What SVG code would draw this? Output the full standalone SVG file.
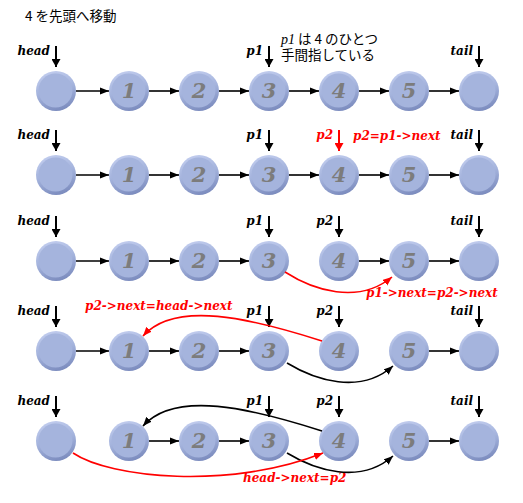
<svg xmlns="http://www.w3.org/2000/svg" width="523" height="503" viewBox="0 0 523 503">
<style>
.bg{fill:#ffffff}
.rim{fill:url(#rim)}
.in{fill:#a5b4dd}
.num{font-family:"DejaVu Serif","Liberation Serif",serif;font-weight:bold;font-style:italic;font-size:21px;fill:#7c7c7c;text-anchor:middle}
.lbl{font-family:"DejaVu Serif","Liberation Serif",serif;font-weight:bold;font-style:italic;font-size:12px;fill:#000;text-anchor:end}
.red{fill:#ff0000}
.rlbl{font-family:"DejaVu Serif","Liberation Serif",serif;font-weight:bold;font-style:italic;font-size:12px;fill:#ff0000}
.jp{font-family:"Noto Sans CJK JP","Noto Sans",sans-serif;font-size:13.5px;fill:#000}
.ln{fill:none;stroke:#000;stroke-width:1.6}
.lr{fill:none;stroke:#ff0000;stroke-width:1.6}
.ptr{fill:none;stroke:#000;stroke-width:2;marker-end:url(#ap)}
.ptrr{fill:none;stroke:#ff0000;stroke-width:2;marker-end:url(#apr)}
.ar{marker-end:url(#ah)}
.arr{marker-end:url(#ahr)}
</style>
<defs>
<linearGradient id="rim" x1="0.2" y1="0" x2="0.5" y2="1">
<stop offset="0" stop-color="#c3ceef"/>
<stop offset="0.5" stop-color="#a5b4dd"/>
<stop offset="1" stop-color="#7d8dbf"/>
</linearGradient>
<marker id="ah" viewBox="0 0 10 8" refX="10" refY="4" markerWidth="9" markerHeight="7.5" markerUnits="userSpaceOnUse" orient="auto"><path d="M0,0L10,4L0,8z" fill="#000"/></marker>
<marker id="ahr" viewBox="0 0 10 8" refX="10" refY="4" markerWidth="9" markerHeight="7.5" markerUnits="userSpaceOnUse" orient="auto"><path d="M0,0L10,4L0,8z" fill="#ff0000"/></marker>
<marker id="ap" viewBox="0 0 8 9" refX="8" refY="4.5" markerWidth="8" markerHeight="9" markerUnits="userSpaceOnUse" orient="auto"><path d="M0,0L8,4.5L0,9z" fill="#000"/></marker>
<marker id="apr" viewBox="0 0 8 9" refX="8" refY="4.5" markerWidth="8" markerHeight="9" markerUnits="userSpaceOnUse" orient="auto"><path d="M0,0L8,4.5L0,9z" fill="#ff0000"/></marker>
</defs>
<rect class="bg" x="0" y="0" width="523" height="503"/>

<g id="title"><text class="jp" x="25" y="21">4 を先頭へ移動</text></g>
<g id="note">
<text class="jp" x="281" y="44"><tspan font-family="Liberation Serif, serif" font-style="italic" font-size="14">p1</tspan> は 4 のひとつ<tspan x="281" y="60">手間指している</tspan></text>
</g>

<!-- Row 1 -->
<g id="r1-head"><circle class="rim" cx="56" cy="91" r="20"/><circle class="in" cx="55.5" cy="90.5" r="17"/></g>
<g id="r1-n1"><circle class="rim" cx="129" cy="91" r="20"/><circle class="in" cx="128.5" cy="90.5" r="17"/><text class="num" x="129" y="98">1</text></g>
<g id="r1-n2"><circle class="rim" cx="199" cy="91" r="20"/><circle class="in" cx="198.5" cy="90.5" r="17"/><text class="num" x="199" y="98">2</text></g>
<g id="r1-n3"><circle class="rim" cx="269" cy="91" r="20"/><circle class="in" cx="268.5" cy="90.5" r="17"/><text class="num" x="269" y="98">3</text></g>
<g id="r1-n4"><circle class="rim" cx="339" cy="91" r="20"/><circle class="in" cx="338.5" cy="90.5" r="17"/><text class="num" x="339" y="98">4</text></g>
<g id="r1-n5"><circle class="rim" cx="409" cy="91" r="20"/><circle class="in" cx="408.5" cy="90.5" r="17"/><text class="num" x="409" y="98">5</text></g>
<g id="r1-tail"><circle class="rim" cx="479" cy="91" r="20"/><circle class="in" cx="478.5" cy="90.5" r="17"/></g>
<g id="r1-labels">
<text class="lbl" x="50" y="55">head</text>
<text class="lbl" x="263" y="55">p1</text>
<text class="lbl" x="473" y="55">tail</text>
</g>

<!-- Row 2 -->
<g id="r2-head"><circle class="rim" cx="56" cy="175" r="20"/><circle class="in" cx="55.5" cy="174.5" r="17"/></g>
<g id="r2-n1"><circle class="rim" cx="129" cy="175" r="20"/><circle class="in" cx="128.5" cy="174.5" r="17"/><text class="num" x="129" y="182">1</text></g>
<g id="r2-n2"><circle class="rim" cx="199" cy="175" r="20"/><circle class="in" cx="198.5" cy="174.5" r="17"/><text class="num" x="199" y="182">2</text></g>
<g id="r2-n3"><circle class="rim" cx="269" cy="175" r="20"/><circle class="in" cx="268.5" cy="174.5" r="17"/><text class="num" x="269" y="182">3</text></g>
<g id="r2-n4"><circle class="rim" cx="339" cy="175" r="20"/><circle class="in" cx="338.5" cy="174.5" r="17"/><text class="num" x="339" y="182">4</text></g>
<g id="r2-n5"><circle class="rim" cx="409" cy="175" r="20"/><circle class="in" cx="408.5" cy="174.5" r="17"/><text class="num" x="409" y="182">5</text></g>
<g id="r2-tail"><circle class="rim" cx="479" cy="175" r="20"/><circle class="in" cx="478.5" cy="174.5" r="17"/></g>
<g id="r2-labels">
<text class="lbl" x="50" y="139">head</text>
<text class="lbl" x="263" y="139">p1</text>
<text class="lbl red" x="333" y="139">p2</text>
<text class="rlbl" x="353" y="140">p2=p1-&gt;next</text>
<text class="lbl" x="473" y="139">tail</text>
</g>

<!-- Row 3 -->
<g id="r3-head"><circle class="rim" cx="56" cy="261" r="20"/><circle class="in" cx="55.5" cy="260.5" r="17"/></g>
<g id="r3-n1"><circle class="rim" cx="129" cy="261" r="20"/><circle class="in" cx="128.5" cy="260.5" r="17"/><text class="num" x="129" y="268">1</text></g>
<g id="r3-n2"><circle class="rim" cx="199" cy="261" r="20"/><circle class="in" cx="198.5" cy="260.5" r="17"/><text class="num" x="199" y="268">2</text></g>
<g id="r3-n3"><circle class="rim" cx="269" cy="261" r="20"/><circle class="in" cx="268.5" cy="260.5" r="17"/><text class="num" x="269" y="268">3</text></g>
<g id="r3-n4"><circle class="rim" cx="339" cy="261" r="20"/><circle class="in" cx="338.5" cy="260.5" r="17"/><text class="num" x="339" y="268">4</text></g>
<g id="r3-n5"><circle class="rim" cx="409" cy="261" r="20"/><circle class="in" cx="408.5" cy="260.5" r="17"/><text class="num" x="409" y="268">5</text></g>
<g id="r3-tail"><circle class="rim" cx="479" cy="261" r="20"/><circle class="in" cx="478.5" cy="260.5" r="17"/></g>
<g id="r3-labels">
<text class="lbl" x="50" y="225">head</text>
<text class="lbl" x="263" y="225">p1</text>
<text class="lbl" x="333" y="225">p2</text>
<text class="lbl" x="473" y="225">tail</text>
<text class="rlbl" x="366" y="297">p1-&gt;next=p2-&gt;next</text>
</g>

<!-- Row 4 -->
<g id="r4-head"><circle class="rim" cx="56" cy="351" r="20"/><circle class="in" cx="55.5" cy="350.5" r="17"/></g>
<g id="r4-n1"><circle class="rim" cx="129" cy="351" r="20"/><circle class="in" cx="128.5" cy="350.5" r="17"/><text class="num" x="129" y="358">1</text></g>
<g id="r4-n2"><circle class="rim" cx="199" cy="351" r="20"/><circle class="in" cx="198.5" cy="350.5" r="17"/><text class="num" x="199" y="358">2</text></g>
<g id="r4-n3"><circle class="rim" cx="269" cy="351" r="20"/><circle class="in" cx="268.5" cy="350.5" r="17"/><text class="num" x="269" y="358">3</text></g>
<g id="r4-n4"><circle class="rim" cx="339" cy="351" r="20"/><circle class="in" cx="338.5" cy="350.5" r="17"/><text class="num" x="339" y="358">4</text></g>
<g id="r4-n5"><circle class="rim" cx="409" cy="351" r="20"/><circle class="in" cx="408.5" cy="350.5" r="17"/><text class="num" x="409" y="358">5</text></g>
<g id="r4-tail"><circle class="rim" cx="479" cy="351" r="20"/><circle class="in" cx="478.5" cy="350.5" r="17"/></g>
<g id="r4-labels">
<text class="lbl" x="50" y="315">head</text>
<text class="lbl" x="263" y="315">p1</text>
<text class="lbl" x="333" y="315">p2</text>
<text class="lbl" x="473" y="315">tail</text>
<text class="rlbl" x="85" y="310">p2-&gt;next=head-&gt;next</text>
</g>

<!-- Row 5 -->
<g id="r5-head"><circle class="rim" cx="56" cy="441" r="20"/><circle class="in" cx="55.5" cy="440.5" r="17"/></g>
<g id="r5-n1"><circle class="rim" cx="129" cy="441" r="20"/><circle class="in" cx="128.5" cy="440.5" r="17"/><text class="num" x="129" y="448">1</text></g>
<g id="r5-n2"><circle class="rim" cx="199" cy="441" r="20"/><circle class="in" cx="198.5" cy="440.5" r="17"/><text class="num" x="199" y="448">2</text></g>
<g id="r5-n3"><circle class="rim" cx="269" cy="441" r="20"/><circle class="in" cx="268.5" cy="440.5" r="17"/><text class="num" x="269" y="448">3</text></g>
<g id="r5-n4"><circle class="rim" cx="339" cy="441" r="20"/><circle class="in" cx="338.5" cy="440.5" r="17"/><text class="num" x="339" y="448">4</text></g>
<g id="r5-n5"><circle class="rim" cx="409" cy="441" r="20"/><circle class="in" cx="408.5" cy="440.5" r="17"/><text class="num" x="409" y="448">5</text></g>
<g id="r5-tail"><circle class="rim" cx="479" cy="441" r="20"/><circle class="in" cx="478.5" cy="440.5" r="17"/></g>
<g id="r5-labels">
<text class="lbl" x="50" y="405">head</text>
<text class="lbl" x="263" y="405">p1</text>
<text class="lbl" x="333" y="405">p2</text>
<text class="lbl" x="473" y="405">tail</text>
<text class="rlbl" x="243" y="482">head-&gt;next=p2</text>
</g>

<g id="connectors">
<!-- row 1 -->
<path class="ln ar" d="M76,91H109"/><path class="ln ar" d="M149,91H179"/><path class="ln ar" d="M219,91H249"/>
<path class="ln ar" d="M289,91H319"/><path class="ln ar" d="M359,91H389"/><path class="ln ar" d="M429,91H459"/>
<path class="ptr" d="M56,46V67"/><path class="ptr" d="M269,46V67"/><path class="ptr" d="M479,46V67"/>
<!-- row 2 -->
<path class="ln ar" d="M76,175H109"/><path class="ln ar" d="M149,175H179"/><path class="ln ar" d="M219,175H249"/>
<path class="ln ar" d="M289,175H319"/><path class="ln ar" d="M359,175H389"/><path class="ln ar" d="M429,175H459"/>
<path class="ptr" d="M56,130V151"/><path class="ptr" d="M269,130V151"/><path class="ptrr" d="M339,130V151"/><path class="ptr" d="M479,130V151"/>
<!-- row 3 -->
<path class="ln ar" d="M76,261H109"/><path class="ln ar" d="M149,261H179"/><path class="ln ar" d="M219,261H249"/>
<path class="ln ar" d="M359,261H389"/><path class="ln ar" d="M429,261H459"/>
<path class="ptr" d="M56,216V237"/><path class="ptr" d="M269,216V237"/><path class="ptr" d="M339,216V237"/><path class="ptr" d="M479,216V237"/>
<path class="lr arr" d="M285,272C313,290 358,305 392,277"/>
<!-- row 4 -->
<path class="ln ar" d="M76,351H109"/><path class="ln ar" d="M149,351H179"/><path class="ln ar" d="M219,351H249"/>
<path class="ln ar" d="M429,351H459"/>
<path class="ptr" d="M56,306V327"/><path class="ptr" d="M269,306V327"/><path class="ptr" d="M339,306V327"/><path class="ptr" d="M479,306V327"/>
<path class="lr arr" d="M322,341C250,318 175,300 143,336"/>
<path class="ln ar" d="M287,363C315,380 360,395 393,366"/>
<!-- row 5 -->
<path class="ln ar" d="M149,441H179"/><path class="ln ar" d="M219,441H249"/>
<path class="ln ar" d="M429,441H459"/>
<path class="ptr" d="M56,396V417"/><path class="ptr" d="M269,396V417"/><path class="ptr" d="M339,396V417"/><path class="ptr" d="M479,396V417"/>
<path class="ln ar" d="M322,431C250,408 175,390 143,426"/>
<path class="ln ar" d="M287,453C315,470 360,485 393,456"/>
<path class="lr arr" d="M73,453C110,478 230,490 323,453"/>
</g>
</svg>
